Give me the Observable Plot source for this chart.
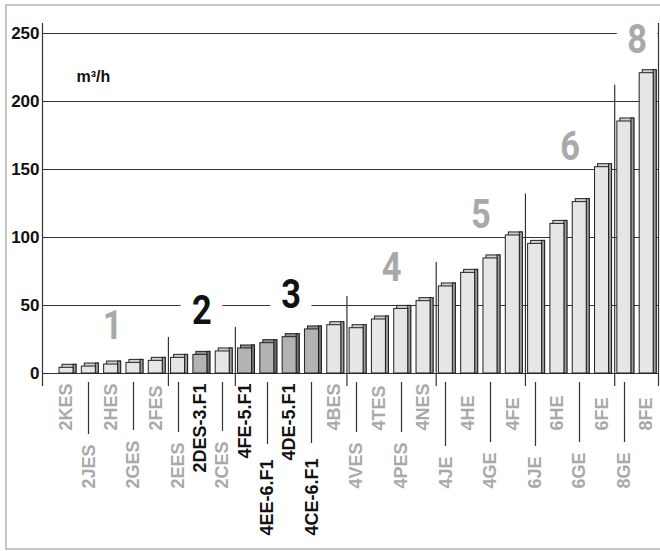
<!DOCTYPE html>
<html><head><meta charset="utf-8">
<script src="https://cdn.jsdelivr.net/npm/d3@7"></script>
<script src="https://cdn.jsdelivr.net/npm/@observablehq/plot@0.6"></script>
<style>
html,body{margin:0;padding:0;background:#fff;}
#wrap{position:relative;width:660px;height:551px;overflow:hidden;}
#wrap svg{position:absolute;left:0;top:0;background:transparent;}
#frame{position:absolute;left:5px;top:4px;right:-10px;bottom:1px;border:2px solid #c6c6c6;border-right:none;pointer-events:none;}
</style></head><body><div id="wrap"></div>
<script>
// ---- data ----
const models = ["2KES","2JES","2HES","2GES","2FES","2EES","2DES-3.F1","2CES","4FE-5.F1","4EE-6.F1","4DE-5.F1","4CE-6.F1","4BES","4VES","4TES","4PES","4NES","4JE","4HE","4GE","4FE","6JE","6HE","6GE","6FE","8GE","8FE"];
const flow = [4.2,5.1,6.6,7.8,9.3,11.5,13.7,16.2,18.4,22.3,26.7,32.4,35.5,33.3,39.7,47.5,53.2,64,74,84.6,101.5,95.3,110,126,151.7,185.3,220.8];
const groupNames = ["1","2","3","4","5","6","8"];
const groupFirst = ["2KES","2EES","4FE-5.F1","4VES","4JE","6JE","8GE"];
const groupLast  = ["2FES","2CES","4BES","4NES","4FE","6FE","8FE"];
const groupLabelY = [35,46,58,78,117,167,245];
const dividerTop = [26.5,33.8,56.6,81.6,132,212];
const yTicks = [0,50,100,150,200,250];
const unitLabel = "m³/h";

// ---- style / layout ----
const fontMain = "Arial, 'Liberation Sans', Helvetica, sans-serif";
const fontGroup = "Roboto, Arial, 'Liberation Sans', sans-serif";
const gray = "#a9a9a9", ink = "#111", lineColor = "#333";
const highlightGroups = ["2","3"], haloGroups = ["2","3","8"];
const W = 660, H = 551, mL = 42, mR = 2, mT = 33, mB = 178;
const xDomain = [-0.576, 27.03];
const axisExt = [-9.6, 257.4];
const step = (W - mL - mR) / (xDomain[1] - xDomain[0]);
const front = 14, depth = 3;
const inset = (step - front) / 2;
const labelDy = {grayUpper: 57, grayLower: 115, darkUpper: 10, darkLower: 162};
const labelFont = 18;
const groupFont = 41, groupNarrow = 0.84;

const bars = models.map((name, i) => ({name, i, v: flow[i], f1: name.includes(".F1"), lower: i % 2 === 1}));
const groups = groupNames.map((g, k) => ({g, a: models.indexOf(groupFirst[k]), b: models.indexOf(groupLast[k]), y: groupLabelY[k]}));
const dividers = groups.slice(1).map((g, k) => ({x: g.a, top: dividerTop[k]}));

const ctx = document.createElement("canvas").getContext("2d");
ctx.font = `bold ${labelFont}px ${fontMain}`;
const textW = s => ctx.measureText(s).width;

function leaders(index, scales) {
  const {x, y} = scales;
  const g = d3.create("svg:g").attr("stroke", lineColor).attr("stroke-width", 1.2);
  bars.filter(d => d.lower).forEach(d => {
    const anchor = y(0) + (d.f1 ? labelDy.darkLower : labelDy.grayLower);
    const top = anchor - textW(d.name) - (d.f1 ? 15 : 10);
    const px = Math.round(x(d.i + 0.5)) + 0.5;
    g.append("line").attr("x1", px).attr("x2", px).attr("y1", y(0) + 9).attr("y2", top);
  });
  return g.node();
}

const gx = d => (d.a + d.b + 1) / 2;
const labelCommon = {x: d => d.i + 0.5, y: () => 0, text: "name", rotate: -90, fontSize: labelFont, fontWeight: "bold", fontFamily: fontMain};
const groupCommon = {x: gx, y: "y", text: "g", dx: 1.5, fontSize: groupFont, fontWeight: "bold", fontFamily: fontGroup};

const chart = Plot.plot({
  width: W, height: H,
  marginLeft: mL, marginRight: mR, marginTop: mT, marginBottom: mB,
  style: {fontFamily: fontMain, background: "transparent", overflow: "visible"},
  x: {domain: xDomain, axis: null},
  y: {domain: [0, 250]},
  marks: [
    Plot.ruleY(yTicks, {stroke: lineColor, strokeWidth: 1}),
    Plot.axisY(yTicks, {tickSize: 0, tickPadding: 3, fontSize: 17, fontWeight: "bold", color: ink, label: null}),
    Plot.text(groups.filter(d => haloGroups.includes(d.g)), {...groupCommon, fill: "white", stroke: "white", strokeWidth: 30}),
    Plot.ruleX(xDomain, {y1: () => axisExt[0], y2: () => axisExt[1], stroke: lineColor, strokeWidth: 1.2}),
    Plot.ruleX(dividers, {x: "x", y1: () => axisExt[0], y2: "top", dx: 1.5, stroke: lineColor, strokeWidth: 1.2}),
    // 3D bars: back (top face), side face, front face
    Plot.rectY(bars, {x1: "i", x2: d => d.i + 1, y: "v", insetLeft: inset, insetRight: inset, insetBottom: -depth, dx: depth, dy: -depth, fill: d => d.f1 ? "#8f8f8f" : "#d2d2d2", stroke: "#222", strokeWidth: 1}),
    Plot.rectY(bars, {x1: "i", x2: d => d.i + 1, y: "v", insetLeft: step - inset - depth, insetRight: inset, insetBottom: -depth, dx: depth, dy: -depth, fill: d => d.f1 ? "#6e6e6e" : "#9c9c9c", stroke: "#222", strokeWidth: 1}),
    Plot.rectY(bars, {x1: "i", x2: d => d.i + 1, y: "v", insetLeft: inset, insetRight: inset, fill: d => d.f1 ? "#b3b3b3" : "#e6e6e6", stroke: "#222", strokeWidth: 1}),
    // group numbers
    Plot.text(groups.filter(d => !highlightGroups.includes(d.g)), {...groupCommon, fill: gray}),
    Plot.text(groups.filter(d => highlightGroups.includes(d.g)), {...groupCommon, fill: ink}),
    // unit
    Plot.text([unitLabel], {text: d => d, frameAnchor: "top-left", dx: 34, dy: 37, textAnchor: "start", fontSize: 16, fontWeight: "bold", fill: ink}),
    // model labels
    Plot.text(bars.filter(d => !d.lower && !d.f1), {...labelCommon, textAnchor: "start", dy: labelDy.grayUpper, fill: gray}),
    Plot.text(bars.filter(d => d.lower && !d.f1), {...labelCommon, textAnchor: "start", dy: labelDy.grayLower, fill: gray}),
    Plot.text(bars.filter(d => !d.lower && d.f1), {...labelCommon, textAnchor: "end", dy: labelDy.darkUpper, fill: ink}),
    Plot.text(bars.filter(d => d.lower && d.f1), {...labelCommon, textAnchor: "start", dy: labelDy.darkLower, fill: ink}),
    leaders
  ]
});
// condensed look for the big group numbers (font-size marks them)
chart.querySelectorAll(`g[font-size="${groupFont}"] text`).forEach(t => {
  const tr = t.getAttribute("transform");
  if (tr) {
    t.setAttribute("transform", tr + ` scale(${groupNarrow},1)`);
  } else {
    const x = +t.getAttribute("x") || 0, y = +t.getAttribute("y") || 0;
    t.removeAttribute("x"); t.removeAttribute("y");
    t.setAttribute("transform", `translate(${x},${y}) scale(${groupNarrow},1)`);
  }
});
const wrap = document.getElementById("wrap");
wrap.appendChild(chart);
const fr = document.createElement("div"); fr.id = "frame"; wrap.appendChild(fr);
</script>
</body></html>
